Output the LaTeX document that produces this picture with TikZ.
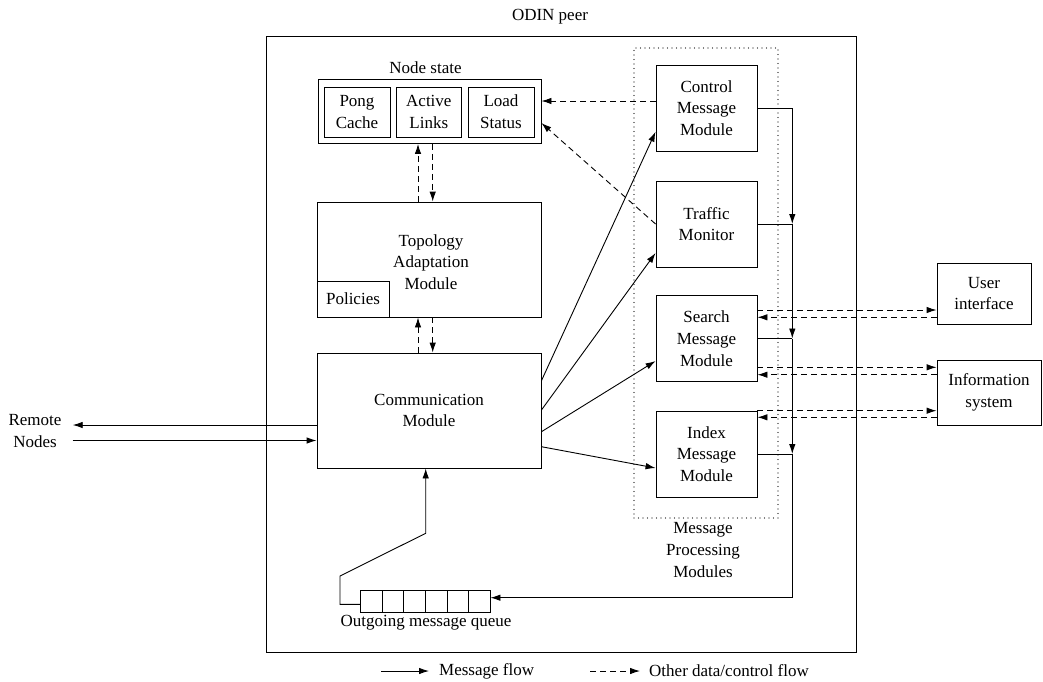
\documentclass[tikz,border=0pt]{standalone}
\usepackage{fontspec}
\setmainfont{Liberation Serif}
\usetikzlibrary{arrows.meta,calc}
\tikzset{
  box/.style={draw, line width=0.9pt, inner sep=0pt, align=center},
  lbl/.style={inner sep=0pt, align=center},
  plain/.style={line width=0.9pt},
  msg/.style={-{Latex[length=10pt,width=6.5pt]}, line width=0.9pt},
  dat/.style={msg, dash pattern=on 6pt off 4pt},
  dotbox/.style={draw, line width=1.1pt, line cap=round, dash pattern=on 0pt off 4.5pt},
}
\begin{document}
\begin{tikzpicture}[x=1pt, y=-1pt, font=\fontsize{17}{21.7}\selectfont]
\useasboundingbox (0,0) rectangle (1043,681);

% peer frame
\node[box] (peer) at (561.7,344) [minimum width=590pt, minimum height=616pt] {};
\node[lbl] (peerlbl) at (550,17) {ODIN peer};

% node state
\node[lbl] (nslbl) at (425.5,68) {Node state};
\node[box, minimum width=223pt, minimum height=64.5pt] (ns) at (429.5,111.25) {};
\node[box, minimum width=66pt, minimum height=50pt] (pong) at (357,112) {Pong\\Cache};
\node[box, minimum width=65.7pt, minimum height=50pt] (links) at (428.85,112) {Active\\Links};
\node[box, minimum width=66pt, minimum height=50pt] (load) at (501,112) {Load\\Status};

% topology adaptation and communication
\node[box, minimum width=224pt, minimum height=115pt] (topo) at (429,259.5) {};
\node[lbl] (topolbl) at (431,262) {Topology\\Adaptation\\Module};
\node[box, minimum width=72pt, minimum height=36pt] (pol) at (353,299) {Policies};
\node[box, minimum width=224pt, minimum height=115pt] (comm) at (429,410.5) {Communication\\Module};

% message processing modules
\node[dotbox, minimum width=144pt, minimum height=470pt] (mpm) at (706,283) {};
\node[lbl] (mpmlbl) at (703,550) {Message\\Processing\\Modules};
\node[box, minimum width=101pt, minimum height=86pt] (ctrl) at (706.5,108) {Control\\Message\\Module};
\node[box, minimum width=101pt, minimum height=86pt] (traf) at (706.5,224) {Traffic\\Monitor};
\node[box, minimum width=101pt, minimum height=86.5pt] (search) at (706.5,338.5) {Search\\Message\\Module};
\node[box, minimum width=101pt, minimum height=86pt] (index) at (706.5,454) {Index\\Message\\Module};

% external systems
\node[box, minimum width=94pt, minimum height=61pt] (ui) at (984,293.5) {User\\interface};
\node[box, minimum width=104pt, minimum height=65pt] (info) at (989,392.5) {Information\\system};

% outgoing queue
\node[box, minimum width=129.3pt, minimum height=21.6pt] (queue) at (425.35,601.5) {};
\foreach \i in {1,...,5}
  \draw[plain] ($(queue.north west)!\i/6!(queue.north east)$) -- ($(queue.south west)!\i/6!(queue.south east)$);
\node[lbl] (qlbl) at (426,623) {Outgoing message queue};

% remote nodes
\node[lbl] (remote) at (35,431) {Remote\\Nodes};
\coordinate (rout) at (72.7,425);
\coordinate (rin) at (72.7,440.5);
\draw[msg] (comm.west |- rout) -- (rout);
\draw[msg] (rin) -- (comm.west |- rin);

% node state <-> topology <-> communication
\draw[dat] ([xshift=-11pt]topo.north) -- ([xshift=-11.5pt]ns.south);
\draw[dat] ([xshift=3.2pt]ns.south) -- ([xshift=3.7pt]topo.north);
\draw[dat] ([xshift=-11pt]comm.north) -- ([xshift=-11pt]topo.south);
\draw[dat] ([xshift=3.7pt]topo.south) -- ([xshift=3.7pt]comm.north);

% control / traffic to node state
\coordinate (ctrlout) at ([yshift=7pt]ctrl.west);
\draw[dat] (ctrlout) -- (ns.east |- ctrlout);
\draw[dat] (traf.west) -- ([yshift=-11.75pt]ns.east);

% communication to processing modules
\draw[msg] ([yshift=29.8pt]comm.east) -- ([yshift=-23.7pt]ctrl.west);
\draw[msg] ([yshift=0.5pt]comm.east) -- ([yshift=-29pt]traf.west);
\draw[msg] ([yshift=-21.2pt]comm.east) -- ([yshift=-22.5pt]search.west);
\draw[msg] ([yshift=-36.2pt]comm.east) -- ([yshift=-14pt]index.west);

% output bus to the queue
\coordinate (bus) at (792.3,0);
\coordinate (qin) at ([yshift=3.8pt]queue.east);
\draw[plain] (ctrl.east) -- (ctrl.east -| bus);
\draw[msg] (ctrl.east -| bus) -- (traf.east -| bus);
\draw[plain] (traf.east) -- (traf.east -| bus);
\draw[msg] (traf.east -| bus) -- (search.east -| bus);
\draw[plain] (search.east) -- (search.east -| bus);
\draw[msg] (search.east -| bus) -- (index.east -| bus);
\draw[plain] (index.east) -- (index.east -| bus);
\draw[msg] (index.east -| bus) -- (bus |- qin) -- (qin);

% queue back to communication
\draw[msg] ([yshift=-2.8pt]queue.west) -- (340,604.3) -- (340,576) -- (425.7,533.3) -- ([xshift=-3.3pt]comm.south);

% search / index <-> external systems
\coordinate (s1) at ([yshift=28.5pt]search.east);
\coordinate (s2) at ([yshift=21.2pt]search.east);
\coordinate (s3) at ([yshift=-28.8pt]search.east);
\coordinate (s4) at ([yshift=-36.2pt]search.east);
\coordinate (x1) at ([yshift=43.3pt]index.east);
\coordinate (x2) at ([yshift=36.7pt]index.east);
\draw[dat] (s1) -- (ui.west |- s1);
\draw[dat] (ui.west |- s2) -- (s2);
\draw[dat] (s3) -- (info.west |- s3);
\draw[dat] (info.west |- s4) -- (s4);
\draw[dat] (x1) -- (info.west |- x1);
\draw[dat] (info.west |- x2) -- (x2);

% legend
\coordinate (la) at (381,671);
\coordinate (lb) at (429,671);
\coordinate (lc) at (590,671);
\coordinate (ld) at (640,671);
\draw[msg] (la) -- (lb);
\node[lbl, anchor=west] (lmsg) at (439,671) {Message flow};
\draw[dat] (lc) -- (ld);
\node[lbl, anchor=west] (loth) at (649,671) {Other data/control flow};
\end{tikzpicture}
\end{document}
